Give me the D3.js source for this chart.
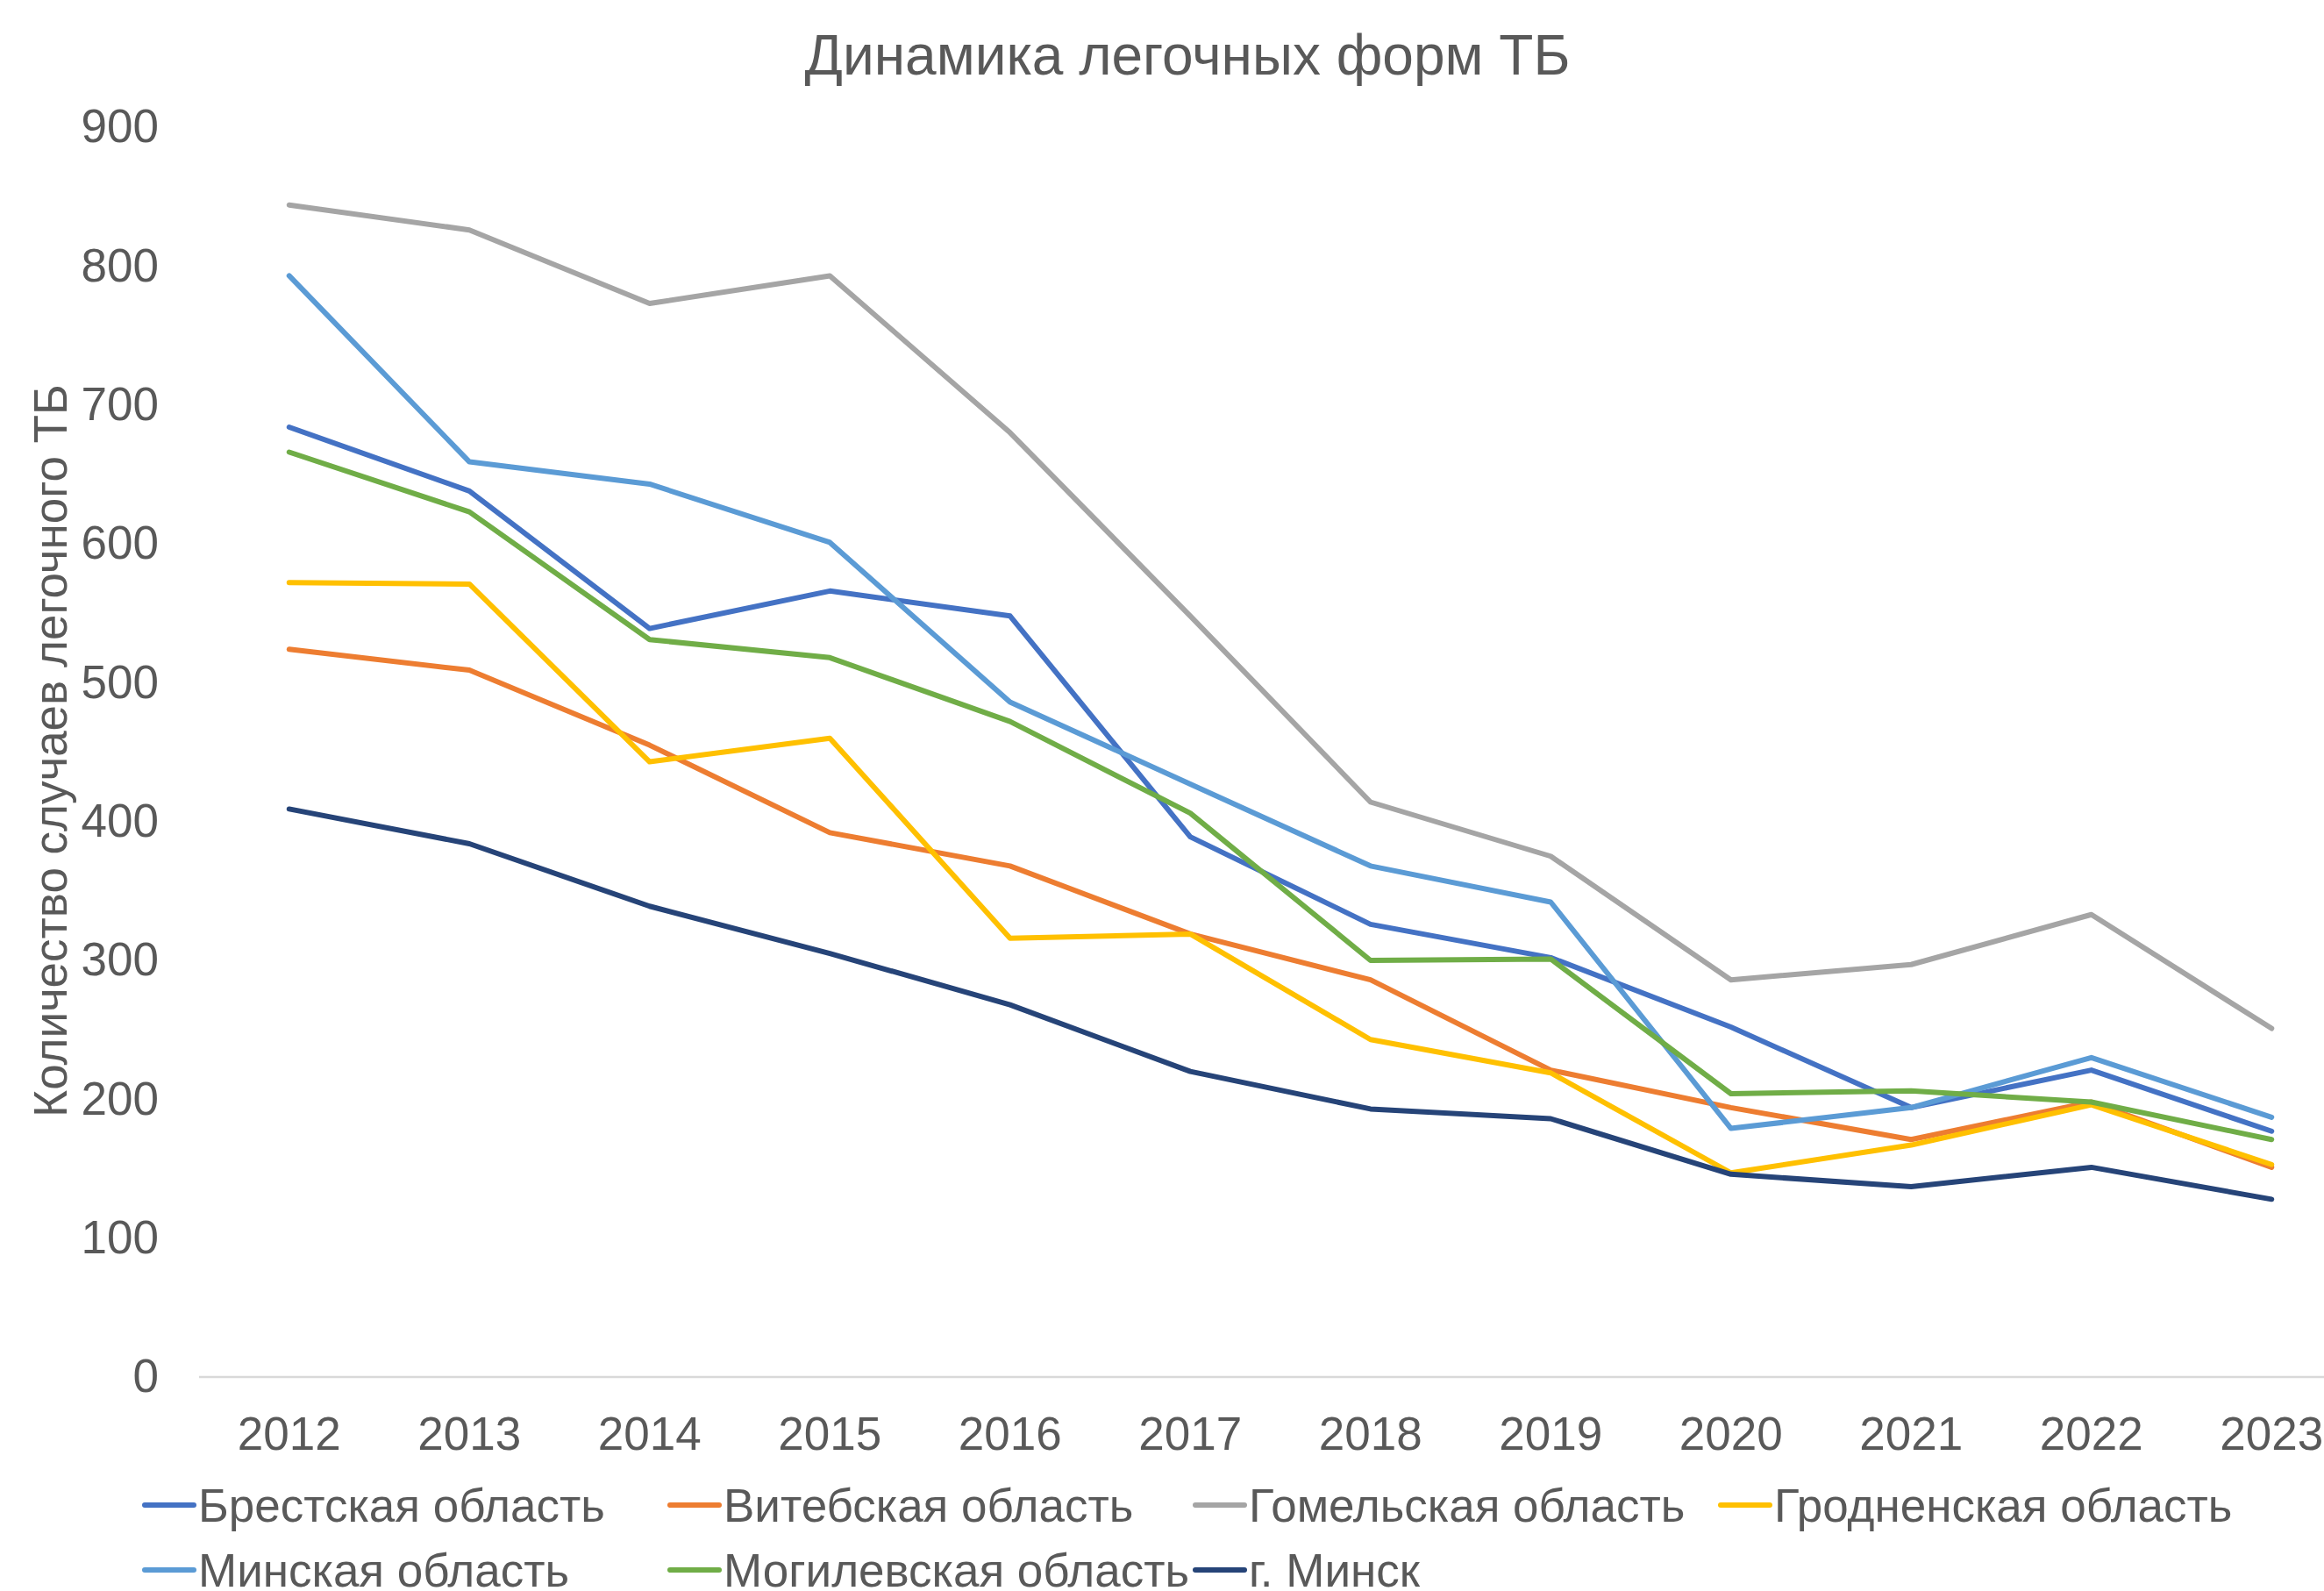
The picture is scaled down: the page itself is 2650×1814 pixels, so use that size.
<!DOCTYPE html>
<html>
<head>
<meta charset="utf-8">
<script src="https://cdn.jsdelivr.net/npm/d3@7"></script>
<style>
  body { margin: 0; background: #fff; }
  svg text { font-family: "Liberation Sans", Arial, sans-serif; fill: #595959; }
</style>
</head>
<body>
<script>
//chart data
var years = ["2012", "2013", "2014", "2015", "2016", "2017", "2018", "2019", "2020", "2021", "2022", "2023"];

var brest   = [684, 638, 539, 566, 548, 389, 326, 302, 252, 194, 221, 177];
var vitebsk = [524, 509, 455, 392, 368, 319, 286, 221, 194, 171, 198, 151];
var gomel   = [844, 826, 773, 793, 680, 548, 414, 375, 286, 297, 333, 251];
var grodno  = [572, 571, 443, 460, 316, 319, 243, 219, 147, 167, 196, 153];
var minskObl = [793, 659, 643, 601, 486, 427, 368, 342, 179, 194, 230, 187];
var mogilev = [666, 623, 531, 518, 472, 406, 300, 301, 204, 206, 198, 171];
var minskCity = [409, 384, 339, 305, 268, 220, 193, 186, 146, 137, 151, 128];

var seriesNames = ["Брестская область", "Витебская область", "Гомельская область", "Гродненская область",
                   "Минская область", "Могилевская область", "г. Минск"];
var seriesValues = [brest, vitebsk, gomel, grodno, minskObl, mogilev, minskCity];
var colors = ["#4472C4", "#ED7D31", "#A5A5A5", "#FFC000", "#5B9BD5", "#70AD47", "#264478"];

var yTicks = [0, 100, 200, 300, 400, 500, 600, 700, 800, 900];

window.onload = drawChart();

function drawChart(){

    var width = 2650,
        height = 1814;

    var svg = d3.select("body")
        .append("svg")
        .attr("width", width)
        .attr("height", height);

    //plot area (right edge runs past the picture, as in the reference)
    var plotLeft = 227, plotRight = 2693, plotTop = 145, plotBottom = 1570;

    var x = d3.scaleBand()
        .domain(years)
        .range([plotLeft, plotRight])
        .paddingInner(0)
        .paddingOuter(0);

    var y = d3.scaleLinear()
        .domain([0, 900])
        .range([plotBottom, plotTop]);

    //title
    svg.append("text")
        .attr("x", 1354)
        .attr("y", 85)
        .attr("text-anchor", "middle")
        .style("font-size", "64px")
        .text("Динамика легочных форм ТБ");

    //y axis labels
    var yAxis = d3.axisLeft(y).tickValues(yTicks).tickSize(0).tickPadding(0);
    var yg = svg.append("g")
        .attr("transform", "translate(181,0)")
        .call(yAxis);
    yg.select(".domain").remove();
    yg.selectAll("text")
        .attr("fill", "#595959")
        .style("font-size", "53px")
        .style("font-family", "'Liberation Sans', Arial, sans-serif");

    //y axis title
    svg.append("text")
        .attr("transform", "translate(76,856) rotate(-90)")
        .attr("text-anchor", "middle")
        .style("font-size", "53px")
        .text("Количество случаев легочного ТБ");

    //category axis line
    svg.append("line")
        .attr("x1", x.range()[0])
        .attr("x2", x.range()[1])
        .attr("y1", y(0))
        .attr("y2", y(0))
        .attr("stroke", "#D9D9D9")
        .attr("stroke-width", 2.5);

    //x axis labels
    var xAxis = d3.axisBottom(x).tickSize(0).tickPadding(0);
    var xg = svg.append("g")
        .attr("transform", "translate(0," + (y(0) + 45) + ")")
        .call(xAxis);
    xg.select(".domain").remove();
    xg.selectAll("text")
        .attr("fill", "#595959")
        .style("font-size", "53px")
        .style("font-family", "'Liberation Sans', Arial, sans-serif");

    //lines
    var line = d3.line()
        .x(function(d, i) { return x(years[i]) + x.bandwidth() / 2; })
        .y(function(d) { return y(d); });

    svg.selectAll(".series")
        .data(seriesValues)
        .enter()
        .append("path")
        .attr("class", "series")
        .attr("d", line)
        .attr("fill", "none")
        .attr("stroke", function(d, i) { return colors[i]; })
        .attr("stroke-width", 6)
        .attr("stroke-linejoin", "round")
        .attr("stroke-linecap", "round");

    //legend, 4 columns
    var legend = svg.selectAll(".legend")
        .data(seriesNames)
        .enter()
        .append("g")
        .attr("class", "legend")
        .attr("transform", function(d, i) {
            return "translate(" + (165 + (i % 4) * 599) + "," + (1716 + Math.floor(i / 4) * 74) + ")";
        });

    legend.append("line")
        .attr("x1", 0)
        .attr("x2", 56)
        .attr("stroke", function(d, i) { return colors[i]; })
        .attr("stroke-width", 6)
        .attr("stroke-linecap", "round");

    legend.append("text")
        .attr("x", 61)
        .attr("dy", "0.35em")
        .style("font-size", "53px")
        .text(function(d) { return d; });
};
</script>
</body>
</html>
